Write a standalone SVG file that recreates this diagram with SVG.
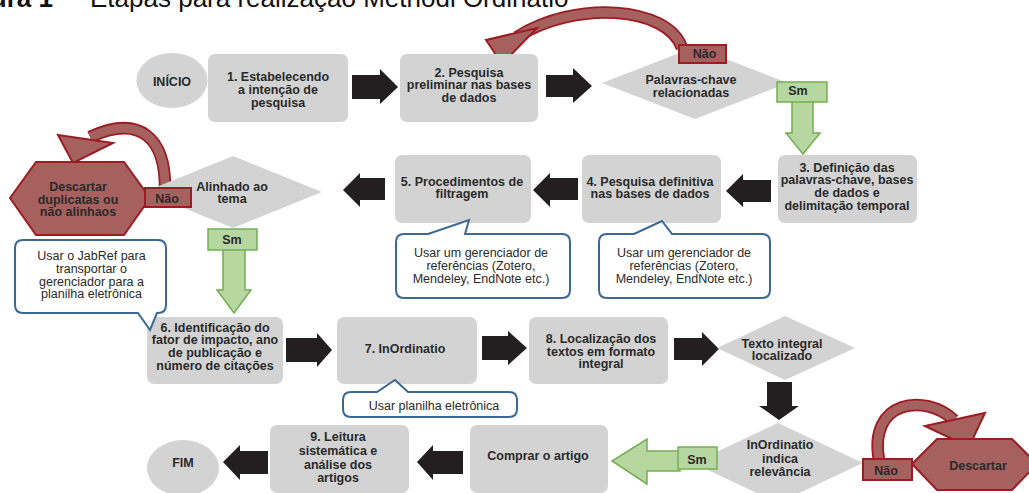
<svg xmlns="http://www.w3.org/2000/svg" width="1029" height="493" viewBox="0 0 1029 493">
<style>
.bx{fill:#d3d3d3}
.t{font-family:"Liberation Sans",Arial,sans-serif;font-weight:bold;font-size:12.5px;fill:#2a2a2a;text-anchor:middle}
.c{font-family:"Liberation Sans",Arial,sans-serif;font-size:12.5px;fill:#2a2a2a;text-anchor:middle}
.blk{fill:#231f20}
.grn{fill:#b6d7a0;stroke:#74ae53;stroke-width:1.5}
.red{fill:#a6615f;stroke:#9b1c22;stroke-width:2}
.call{fill:#fff;stroke:#3b6897;stroke-width:2}
.bandO{fill:none;stroke:#9b1c22;stroke-width:12.5}
.bandI{fill:none;stroke:#a6615f;stroke-width:9}
</style>
<rect width="1029" height="493" fill="#fff"/>
<g id="title">
<text x="53" y="7" text-anchor="end" style="font-family:'Liberation Sans',Arial,sans-serif;font-weight:bold;font-size:26px;fill:#111">ura 1</text>
<text x="90" y="7" style="font-family:'Liberation Sans',Arial,sans-serif;font-size:26px;fill:#111">Etapas para realização Methodi Ordinatio</text>
</g>
<g id="connectors">
<polygon class="blk" points="352,75 380,75 380,69 398,87 380,104 380,99 352,99"/>
<polygon class="blk" points="546,75 573,75 573,68 592,86 573,103 573,97 546,97"/>
<polygon class="blk" points="771,180 743,180 743,174 726,191 743,207 743,202 771,202"/>
<polygon class="blk" points="578,178 550,178 550,173 533,190 550,207 550,200 578,200"/>
<polygon class="blk" points="385,178 360,178 360,173 343,190 360,207 360,200 385,200"/>
<polygon class="blk" points="286,338 317,338 317,333 332,350 317,367 317,362 286,362"/>
<polygon class="blk" points="482,336 508,336 508,331 527,348 508,365 508,360 482,360"/>
<polygon class="blk" points="674,338 702,338 702,332 719,349 702,366 702,360 674,360"/>
<polygon class="blk" points="767,382 792,382 792,406 799,406 779,420 759,406 767,406"/>
<polygon class="blk" points="463,451 433,451 433,445 417,462 433,480 433,474 463,474"/>
<polygon class="blk" points="268,451 240,451 240,445 223,462 240,480 240,474 268,474"/>
<polygon class="grn" points="792,101 813,101 813,133 820,133 803,154 786,133 792,133"/>
<polygon class="grn" points="223,249 245,249 245,290 251,290 234,313 217,290 223,290"/>
<polygon class="grn" points="680,451 647,451 647,439 612,461 647,484 647,471 680,471"/>
<path class="bandO" d="M682 48 C668 6, 575 0, 517 37"/>
<path class="bandI" d="M682 48 C668 6, 575 0, 517 37"/>
<polygon class="red" points="486,40 537,28 502,64"/>
<path class="bandO" d="M165 190 C166 138, 140 114, 90 137"/>
<path class="bandI" d="M165 190 C166 138, 140 114, 90 137"/>
<polygon class="red" points="58,135 113,143 73,163"/>
<path class="bandO" d="M879 460 C868 400, 925 393, 954 420"/>
<path class="bandI" d="M879 460 C868 400, 925 393, 954 420"/>
<polygon class="red" points="925,426 985,413 969,447"/>
</g>
<g id="inicio"><ellipse class="bx" cx="172" cy="80.5" rx="35.5" ry="27.5"/><text class="t" x="172" y="85.5">INÍCIO</text></g>
<g id="n1"><rect class="bx" x="208" y="54" width="140" height="68" rx="7"/><text class="t"><tspan x="278" y="80.5">1. Estabelecendo</tspan><tspan x="278" y="93.5">a intenção de</tspan><tspan x="278" y="106.5">pesquisa</tspan></text></g>
<g id="n2"><rect class="bx" x="400" y="54" width="138" height="68" rx="7"/><text class="t"><tspan x="469" y="76.5">2. Pesquisa</tspan><tspan x="469" y="89">preliminar nas bases</tspan><tspan x="469" y="101.5">de dados</tspan></text></g>
<g id="d1"><polygon class="bx" points="602,83 695,47 788,83 695,119"/><text class="t"><tspan x="691" y="83.5">Palavras-chave</tspan><tspan x="691" y="96.5">relacionadas</tspan></text></g>
<g id="nao1"><rect class="red" x="679" y="45" width="47" height="18"/><text class="t" x="704.5" y="57.5">Não</text></g>
<g id="sm1"><rect class="grn" x="777" y="82" width="50" height="20"/><text class="t" x="798" y="94.5">Sm</text></g>
<g id="n3"><rect class="bx" x="778" y="155" width="139" height="68" rx="7"/><text class="t"><tspan x="847" y="171.5">3. Definição das</tspan><tspan x="847" y="184">palavras-chave, bases</tspan><tspan x="847" y="197">de dados e</tspan><tspan x="847" y="209.5">delimitação temporal</tspan></text></g>
<g id="n4"><rect class="bx" x="582" y="155" width="139" height="68" rx="7"/><text class="t"><tspan x="650" y="185.5">4. Pesquisa definitiva</tspan><tspan x="650" y="197.5">nas bases de dados</tspan></text></g>
<g id="n5"><rect class="bx" x="395" y="155" width="136" height="68" rx="7"/><text class="t"><tspan x="462" y="185.5">5. Procedimentos de</tspan><tspan x="462" y="198">filtragem</tspan></text></g>
<g id="d2"><polygon class="bx" points="144,192 233,156 322,192 233,228"/><text class="t"><tspan x="232" y="191">Alinhado ao</tspan><tspan x="232" y="203">tema</tspan></text></g>
<g id="hex1"><polygon class="red" points="10,198 36,162 124,162 150,198 124,235 36,235"/><text class="t"><tspan x="78" y="190.5">Descartar</tspan><tspan x="78" y="203.5">duplicatas ou</tspan><tspan x="78" y="216">não alinhaos</tspan></text></g>
<g id="nao2"><rect class="red" x="145" y="188" width="46" height="19"/><text class="t" x="167" y="202.5">Não</text></g>
<g id="sm2"><rect class="grn" x="208" y="229" width="49" height="21"/><text class="t" x="232" y="243.5">Sm</text></g>
<g id="n6"><rect class="bx" x="147" y="317" width="136" height="67" rx="7"/><text class="t"><tspan x="215" y="331.5">6. Identificação do</tspan><tspan x="215" y="344.3">fator de impacto, ano</tspan><tspan x="215" y="357.1">de publicação e</tspan><tspan x="215" y="369.9">número de citações</tspan></text></g>
<g id="n7"><rect class="bx" x="337" y="317" width="140" height="67" rx="7"/><text class="t" x="405" y="352.5">7. InOrdinatio</text></g>
<g id="n8"><rect class="bx" x="529" y="317" width="139" height="67" rx="7"/><text class="t"><tspan x="601" y="342.5">8. Localização dos</tspan><tspan x="601" y="355.5">textos em formato</tspan><tspan x="601" y="367.5">integral</tspan></text></g>
<g id="d3"><polygon class="bx" points="717,348 785,316 855,348 785,380"/><text class="t"><tspan x="782" y="347.5">Texto integral</tspan><tspan x="782" y="359.5">localizado</tspan></text></g>
<g id="d4"><polygon class="bx" points="693,463 778,423 863,463 778,503"/><text class="t"><tspan x="780" y="448.5">InOrdinatio</tspan><tspan x="780" y="462.5">indica</tspan><tspan x="780" y="476">relevância</tspan></text></g>
<g id="sm3"><rect class="grn" x="678" y="447" width="39" height="22"/><text class="t" x="697" y="463.5">Sm</text></g>
<g id="hex2"><polygon class="red" points="912,464 937,439 1012,439 1037,464 1012,490 937,490"/><text class="t" x="978" y="469.5">Descartar</text></g>
<g id="nao3"><rect class="red" x="863" y="459" width="49" height="21"/><text class="t" x="886" y="474.5">Não</text></g>
<g id="comprar"><rect class="bx" x="470" y="425" width="138" height="68" rx="7"/><text class="t" x="538" y="459.5">Comprar o artigo</text></g>
<g id="n9"><rect class="bx" x="270" y="425" width="139" height="68" rx="7"/><text class="t"><tspan x="338" y="441">9. Leitura</tspan><tspan x="338" y="455">sistemática e</tspan><tspan x="338" y="468.5">análise dos</tspan><tspan x="338" y="482">artigos</tspan></text></g>
<g id="fim"><ellipse class="bx" cx="183" cy="468" rx="36" ry="28"/><text class="t" x="183" y="466.5">FIM</text></g>
<g id="call1"><path class="call" d="M23 240 L158 240 Q166 240 166 248 L166 305 Q166 313 158 313 L157 313 L150 330 L138 313 L23 313 Q15 313 15 305 L15 248 Q15 240 23 240 Z"/><text class="c"><tspan x="91.5" y="259.5">Usar o JabRef para</tspan><tspan x="91.5" y="272.5">transportar o</tspan><tspan x="91.5" y="285.5">gerenciador para a</tspan><tspan x="91.5" y="297.5">planilha eletrônica</tspan></text></g>
<g id="call2"><path class="call" d="M404 234 L428 234 L469 220 L465 234 L562 234 Q570 234 570 242 L570 290 Q570 298 562 298 L404 298 Q396 298 396 290 L396 242 Q396 234 404 234 Z"/><text class="c"><tspan x="481" y="257">Usar um gerenciador de</tspan><tspan x="481" y="270">referências (Zotero,</tspan><tspan x="481" y="283">Mendeley, EndNote etc.)</tspan></text></g>
<g id="call3"><path class="call" d="M607 234 L634 234 L662 221 L672 234 L762 234 Q770 234 770 242 L770 290 Q770 298 762 298 L607 298 Q599 298 599 290 L599 242 Q599 234 607 234 Z"/><text class="c"><tspan x="684" y="257">Usar um gerenciador de</tspan><tspan x="684" y="270">referências (Zotero,</tspan><tspan x="684" y="283">Mendeley, EndNote etc.)</tspan></text></g>
<g id="call4"><path class="call" d="M351 392 L377 392 L395 380 L408 392 L509 392 Q517 392 517 400 L517 409 Q517 417 509 417 L351 417 Q343 417 343 409 L343 400 Q343 392 351 392 Z"/><text class="c" x="434" y="409.5">Usar planilha eletrônica</text></g>
</svg>
